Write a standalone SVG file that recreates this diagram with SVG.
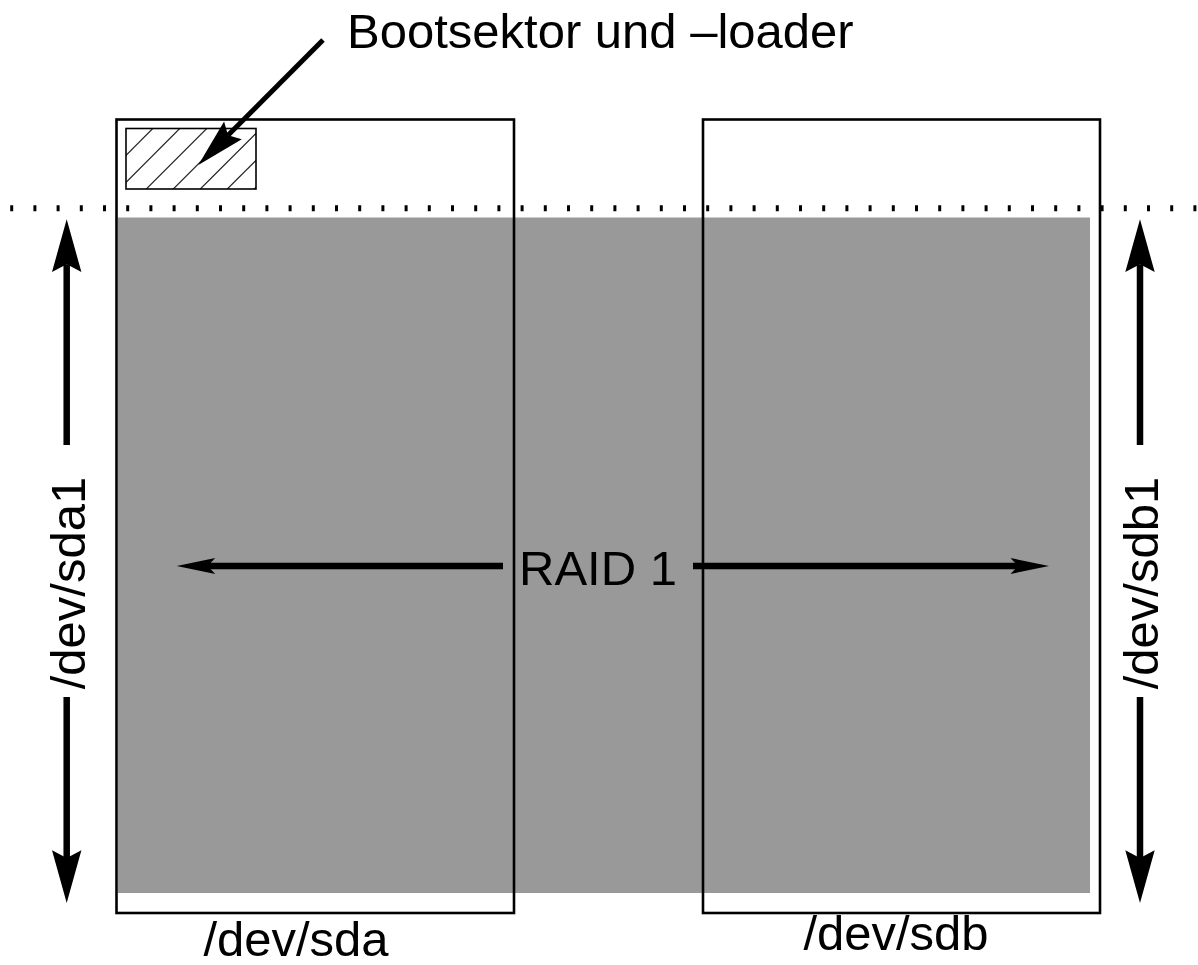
<svg xmlns="http://www.w3.org/2000/svg" width="1198" height="965" viewBox="0 0 1198 965">
  <style>
    .lbl { font-family: "Liberation Sans", Arial, Helvetica, sans-serif; font-size: 49px; fill: #000; }
    .disk { fill: none; stroke: #000; stroke-width: 2.6; }
    .shaft { stroke: #000; stroke-width: 6.5; fill: none; }
    .hatch { stroke: #222; stroke-width: 1.2; }
  </style>
  <defs>
    <!-- indented arrowheads; marker origin sits at the notch -->
    <marker id="head-v" markerUnits="userSpaceOnUse" orient="auto" overflow="visible" markerWidth="1" markerHeight="1" refX="0" refY="0">
      <path d="M45,0 L-7.7,-14.7 L0,0 L-7.7,14.7 Z" fill="#000"/>
    </marker>
    <marker id="head-h" markerUnits="userSpaceOnUse" orient="auto" overflow="visible" markerWidth="1" markerHeight="1" refX="0" refY="0">
      <path d="M31,0 L-7.5,-8 L0,0 L-7.5,8 Z" fill="#000"/>
    </marker>
    <marker id="head-d" markerUnits="userSpaceOnUse" orient="auto" overflow="visible" markerWidth="1" markerHeight="1" refX="0" refY="0">
      <path d="M42,0 L-7,-12.5 L0,0 L-7,12.5 Z" fill="#000"/>
    </marker>
    <clipPath id="boot-clip">
      <rect x="126" y="128.5" width="130" height="60.5"/>
    </clipPath>
  </defs>

  <rect width="1198" height="965" fill="#fff"/>

  <!-- mirrored partition area -->
  <rect id="raid-area" x="118" y="217.5" width="972" height="675.5" fill="#999999"/>

  <!-- disk sda -->
  <g id="sda">
    <rect class="disk" x="116.5" y="119.5" width="397.5" height="793.5"/>
    <text class="lbl" x="296" y="956" text-anchor="middle">/dev/sda</text>
  </g>

  <!-- disk sdb -->
  <g id="sdb">
    <rect class="disk" x="703" y="119.5" width="397" height="793.5"/>
    <text class="lbl" x="896" y="950" text-anchor="middle">/dev/sdb</text>
  </g>

  <!-- boot sector / loader block -->
  <g id="bootsector">
    <g clip-path="url(#boot-clip)" class="hatch">
      <line x1="83" y1="198.3" x2="163" y2="118.3"/>
      <line x1="110" y1="198.3" x2="190" y2="118.3"/>
      <line x1="137" y1="198.3" x2="217" y2="118.3"/>
      <line x1="164" y1="198.3" x2="244" y2="118.3"/>
      <line x1="191" y1="198.3" x2="271" y2="118.3"/>
      <line x1="218" y1="198.3" x2="298" y2="118.3"/>
      <line x1="245" y1="198.3" x2="325" y2="118.3"/>
    </g>
    <rect x="126" y="128.5" width="130" height="60.5" fill="none" stroke="#000" stroke-width="1.6"/>
  </g>

  <!-- partition boundary -->
  <line id="boundary" x1="10.2" y1="208.3" x2="1198" y2="208.3" stroke="#000" stroke-width="6" stroke-dasharray="3 20.2"/>

  <!-- labels -->
  <g id="boot-label">
    <text class="lbl" x="347" y="48">Bootsektor und –loader</text>
  </g>
  <g id="raid-label">
    <text class="lbl" x="598" y="585" text-anchor="middle">RAID 1</text>
  </g>
  <g id="sda1">
    <text class="lbl" transform="translate(85 583) rotate(-90)" text-anchor="middle">/dev/sda1</text>
  </g>
  <g id="sdb1">
    <text class="lbl" transform="translate(1158 583) rotate(-90)" text-anchor="middle">/dev/sdb1</text>
  </g>

  <!-- connectors -->
  <g id="connectors">
    <line x1="323" y1="40" x2="228" y2="135.3" stroke="#000" stroke-width="5" marker-end="url(#head-d)"/>
    <line class="shaft" x1="66.7" y1="445" x2="66.7" y2="264.3" marker-end="url(#head-v)"/>
    <line class="shaft" x1="66.7" y1="697" x2="66.7" y2="858" marker-end="url(#head-v)"/>
    <line class="shaft" x1="1140" y1="445" x2="1140" y2="264.3" marker-end="url(#head-v)"/>
    <line class="shaft" x1="1140" y1="697" x2="1140" y2="858" marker-end="url(#head-v)"/>
    <line class="shaft" x1="503" y1="566" x2="207.7" y2="566" marker-end="url(#head-h)"/>
    <line class="shaft" x1="693" y1="566" x2="1018" y2="566" marker-end="url(#head-h)"/>
  </g>
</svg>
